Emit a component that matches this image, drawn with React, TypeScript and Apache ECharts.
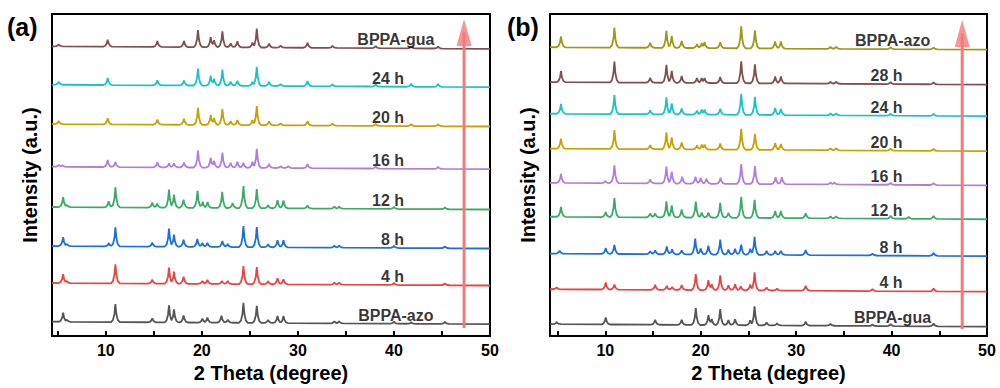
import React, { useEffect, useRef } from "react";
import * as echarts from "echarts";

// ---------- Panel (a) ----------
const namesA = ["BPPA-azo", "4 h", "8 h", "12 h", "16 h", "20 h", "24 h", "BPPA-gua"];
const colorsA = ["#555555", "#e64545", "#1e6fdb", "#3caa68", "#b07ee0", "#c9a100", "#19c3c6", "#7e504f"];
const offsetsA = [14.3, 53, 90, 129, 169.3, 212, 251.3, 289.7];
const labelXA = [40.2, 41.05, 41.05, 41.05, 41.05, 41.05, 41.05, 40.2];
const peaksA: number[][][] = [
  [[5.56,9],[5.95,2],[11.0,18],[14.84,4],[16.58,17],[17.1,13],[18.1,7],[20.06,4],[20.58,5],[22.04,7],[22.7,3],[24.33,20],[25.72,17],[26.9,3],[27.88,7],[28.5,7],[33.8,2],[34.3,2],[40.0,2],[41.8,1.5],[45.3,2]],
  [[5.56,9],[5.95,2],[11.0,19],[14.84,4],[16.58,16],[17.1,12],[18.1,7],[20.06,3],[20.58,4],[22.1,3],[22.7,3],[24.33,18],[25.72,17],[26.9,3],[27.88,6],[28.5,5],[33.8,2],[34.3,2],[40.0,2],[45.3,2]],
  [[5.56,9],[5.95,2],[10.32,3],[11.0,19],[14.84,4],[16.58,18],[17.1,12],[18.1,7],[19.53,8],[20.06,4],[20.58,4],[22.14,6],[22.7,3],[24.33,21],[25.72,20],[26.9,3],[27.88,7],[28.5,7],[33.8,2],[34.3,2],[40.0,2],[45.3,2]],
  [[5.56,10],[5.95,2],[10.3,6],[11.0,20],[14.84,5],[15.35,4],[16.58,18],[17.1,13],[18.1,8],[19.55,17],[20.1,6],[20.6,6],[22.12,16],[23.2,5],[24.33,22],[25.72,19],[26.9,3],[27.88,8],[28.5,8],[31.0,3],[33.8,2],[34.3,2],[40.0,2],[45.3,2]],
  [[5.1,2],[5.5,1.5],[10.2,7],[11.0,5],[15.37,5],[16.58,4],[17.1,4],[18.14,5],[19.6,17],[20.92,10],[21.27,7],[22.14,15],[23.0,5],[23.7,6],[24.33,5],[25.27,6],[25.72,19],[27.0,4],[28.2,2],[29.0,2],[31.0,4],[38.1,2],[44.6,2]],
  [[5.1,3],[10.2,6],[15.37,5],[18.14,6],[19.6,17],[20.92,10],[21.27,7],[22.14,16],[23.0,4],[23.7,5],[25.27,5],[25.72,19],[27.0,4],[28.2,2],[31.0,4],[33.6,2],[38.1,2],[41.8,2],[44.6,2]],
  [[5.1,3],[10.2,7],[15.37,5],[18.14,5],[19.6,17],[20.92,10],[21.27,7],[22.14,16],[23.0,4],[23.7,5],[25.27,4],[25.72,19],[27.0,4],[28.2,2],[31.0,5],[33.6,2],[38.1,2],[41.8,3],[44.6,3]],
  [[5.1,2],[10.2,7],[15.37,6],[18.14,6],[19.6,17],[20.92,10],[21.27,7],[22.14,16],[23.0,4],[23.7,6],[25.27,5],[25.72,19],[27.0,4],[28.2,2],[31.0,5],[33.6,2],[38.1,2],[41.8,2],[44.6,2]],
];

// ---------- Panel (b) ----------
const namesB = ["BPPA-gua", "4 h", "8 h", "12 h", "16 h", "20 h", "24 h", "28 h", "BPPA-azo"];
const colorsB = ["#555555", "#e64545", "#1e6fdb", "#3caa68", "#b07ee0", "#c9a100", "#19c3c6", "#7e504f", "#9a9a14"];
const offsetsB = [12, 47, 82.7, 119.7, 153.7, 188, 223, 254.7, 289.7];
const labelXB = [40.1, 41.15, 41.15, 41.15, 41.15, 41.15, 41.15, 41.15, 40.1];
const peaksB: number[][][] = [
  [[4.9,2],[10.04,7],[15.22,5],[18.0,5],[19.48,17],[20.81,10],[21.15,6],[22.04,16],[22.9,5],[23.6,6],[25.19,5],[25.64,19],[26.9,3],[28.0,2],[31.0,4],[33.6,2],[38.0,1.5],[39.9,2],[44.4,3]],
  [[4.9,2],[10.04,7],[10.95,5],[15.22,5],[16.44,4],[17.0,3],[18.0,5],[19.48,16],[20.8,10],[21.15,6],[22.04,15],[22.9,5],[23.6,6],[24.2,4],[25.19,6],[25.64,18],[26.9,3],[28.0,2],[31.0,5],[38.0,2],[44.4,3]],
  [[5.2,3],[10.04,6],[10.95,9],[14.7,3],[15.22,4],[16.44,8],[17.0,5],[18.0,4],[19.42,16],[20.0,6],[20.8,9],[22.04,15],[22.9,5],[23.6,6],[24.24,10],[25.19,6],[25.64,18],[26.9,4],[27.8,4],[28.4,4],[31.0,5],[38.0,2],[44.4,3]],
  [[5.35,10],[10.04,5],[10.95,19],[14.7,4],[15.22,4],[16.4,16],[16.96,12],[18.0,8],[19.48,16],[20.1,5],[20.8,5],[22.04,15],[22.9,5],[24.24,21],[25.64,18],[27.8,7],[28.4,7],[31.0,5],[33.6,2],[34.2,2],[39.9,3],[41.8,2],[44.4,3]],
  [[5.35,9],[10.0,2],[10.95,18],[14.7,4],[16.4,17],[16.96,12],[18.05,7],[19.45,7],[20.0,6],[20.6,5],[22.07,6],[24.24,20],[25.68,18],[27.84,7],[28.5,7],[33.6,2],[34.0,2],[39.9,2],[44.4,2]],
  [[5.35,10],[10.95,19],[14.7,4],[16.4,17],[16.96,12],[18.0,7],[19.6,4],[20.1,5],[20.4,5],[22.04,6],[24.24,21],[25.68,16],[27.8,7],[28.4,6],[33.6,2],[34.2,2],[39.9,2],[44.4,2]],
  [[5.35,10],[10.95,19],[14.7,4],[16.4,17],[16.96,11],[18.0,6],[19.6,4],[20.1,5],[20.4,5],[22.04,6],[24.24,21],[25.68,18],[27.8,7],[28.4,6],[33.6,2],[34.2,2],[39.9,2],[44.4,2]],
  [[5.35,11],[10.95,21],[14.7,5],[16.4,18],[16.96,12],[18.0,7],[19.6,5],[20.1,5],[20.4,5],[22.04,6],[24.24,22],[25.68,19],[27.8,7],[28.4,7],[33.6,2],[34.2,2],[39.9,2],[44.4,2]],
  [[5.35,11],[10.95,20],[14.7,5],[16.4,17],[16.96,12],[18.0,7],[19.6,4],[20.1,5],[20.4,6],[22.04,6],[24.24,22],[25.68,18],[27.8,7],[28.4,7],[33.6,2],[34.2,2],[39.9,2],[44.4,2]],
];

// axes
const xMinA = 4.4;
const xMinB = 4.2;
const xMax = 50;
const yMaxA = 322;
const yMaxB = 323;
const baselineDrift = 2.5;
const xLabelValues = [10, 20, 30, 40, 50];
const xTickValues = [5, 10, 15, 20, 25, 30, 35, 40, 45, 50];

// arrows
const arrowXA = 47.3;
const arrowXB = 47.4;
const arrowBottomA = 8;
const arrowBottomB = 7;
const arrowHeadA = 303.5;
const arrowHeadB = 303.5;

const SHAPE = [[-0.45, 0], [-0.25, 0.12], [-0.1, 0.45], [0, 1], [0.1, 0.45], [0.25, 0.12], [0.45, 0]];

function peakValue(x: number, p: number, h: number) {
  const d = x - p;
  if (d <= SHAPE[0][0] || d >= SHAPE[SHAPE.length - 1][0]) return 0;
  for (let i = 0; i < SHAPE.length - 1; i++) {
    const [a, va] = SHAPE[i];
    const [b, vb] = SHAPE[i + 1];
    if (d >= a && d <= b) return h * (va + ((vb - va) * (d - a)) / (b - a));
  }
  return 0;
}

function buildTrace(peaks: number[][], offset: number, x0: number, x1: number) {
  const xs = new Set<number>([x0, x1]);
  peaks.forEach(([p]) => SHAPE.forEach(([s]) => {
    const x = +(p + s).toFixed(4);
    if (x > x0 && x < x1) xs.add(x);
  }));
  const sorted = Array.from(xs).sort((a, b) => a - b);
  return sorted.map((x) => {
    let m = 0;
    peaks.forEach(([p, h]) => { m = Math.max(m, peakValue(x, p, h)); });
    return [x, offset - (baselineDrift * (x - x0)) / (x1 - x0) + m];
  });
}

const FONT = "'Liberation Sans', Arial, sans-serif";

function makeXAxis(gridIndex: number, min: number) {
  return {
    type: "value", gridIndex, min, max: xMax,
    name: "2 Theta (degree)", nameLocation: "middle", nameGap: 24,
    nameTextStyle: { fontSize: 20, fontWeight: "bold", color: "#000", fontFamily: FONT },
    axisLine: { show: false },
    splitLine: { show: false },
    axisTick: { show: true, inside: true, length: 5, customValues: xTickValues, lineStyle: { color: "#000", width: 2 } },
    axisLabel: { show: true, margin: 6, customValues: xLabelValues, fontSize: 16, fontWeight: "bold", color: "#000", fontFamily: FONT },
  };
}

function makeYAxis(gridIndex: number, max: number) {
  return {
    type: "value", gridIndex, min: 0, max,
    name: "Intensity (a.u.)", nameLocation: "middle", nameGap: 12,
    nameTextStyle: { fontSize: 20, fontWeight: "bold", color: "#000", fontFamily: FONT },
    axisLine: { show: false }, axisTick: { show: false }, axisLabel: { show: false }, splitLine: { show: false },
  };
}

export default function App() {
  const ref = useRef<HTMLDivElement>(null);
  useEffect(() => {
    if (!ref.current) return;
    const chart = echarts.init(ref.current, null, { renderer: "svg" });
    const series: any[] = [];
    const panels = [
      { names: namesA, colors: colorsA, offsets: offsetsA, peaks: peaksA, labelX: labelXA, xMin: xMinA, idx: 0, ax: arrowXA, ab: arrowBottomA, ah: arrowHeadA },
      { names: namesB, colors: colorsB, offsets: offsetsB, peaks: peaksB, labelX: labelXB, xMin: xMinB, idx: 1, ax: arrowXB, ab: arrowBottomB, ah: arrowHeadB },
    ];
    panels.forEach((pn) => {
      pn.names.forEach((n, i) => {
        series.push({
          type: "line", name: n, xAxisIndex: pn.idx, yAxisIndex: pn.idx,
          data: buildTrace(pn.peaks[i], pn.offsets[i], pn.xMin, xMax),
          showSymbol: false, symbol: "none",
          lineStyle: { color: pn.colors[i], width: 1.8 },
          itemStyle: { color: pn.colors[i] },
          z: 2,
        });
      });
      series.push({
        type: "scatter", xAxisIndex: pn.idx, yAxisIndex: pn.idx, symbolSize: 1,
        itemStyle: { color: "rgba(0,0,0,0)" },
        data: pn.names.map((n, i) => ({
          name: n,
          value: [pn.labelX[i], pn.offsets[i] + 6.5],
          label: { align: n.startsWith("BPPA") ? "center" : "right" },
        })),
        label: {
          show: true, position: "inside", formatter: (p: any) => p.name,
          fontSize: 16, fontWeight: "bold", color: "#000", fontFamily: FONT,
        },
        z: 3,
      });
      series.push({
        type: "line", xAxisIndex: pn.idx, yAxisIndex: pn.idx, symbol: "none",
        data: [[pn.ax, pn.ab], [pn.ax, pn.ah]],
        lineStyle: { color: "#f47a7a", width: 3 }, z: 4,
      });
      series.push({
        type: "scatter", xAxisIndex: pn.idx, yAxisIndex: pn.idx, symbol: "triangle", symbolSize: [15, 27],
        data: [[pn.ax, pn.ah]], itemStyle: { color: "#f47a7a" }, z: 4,
      });
    });

    chart.setOption({
      animation: false,
      backgroundColor: "#fff",
      grid: [
        { left: 52, top: 14, width: 438, height: 322, show: true, borderColor: "#000", borderWidth: 2, backgroundColor: "transparent" },
        { left: 550, top: 14, width: 437, height: 323, show: true, borderColor: "#000", borderWidth: 2, backgroundColor: "transparent" },
      ],
      xAxis: [makeXAxis(0, xMinA), makeXAxis(1, xMinB)],
      yAxis: [makeYAxis(0, yMaxA), makeYAxis(1, yMaxB)],
      graphic: [
        { type: "text", left: 7, top: 14, style: { text: "(a)", fontSize: 25, fontWeight: "bold", fill: "#000", fontFamily: FONT } },
        { type: "text", left: 507, top: 14, style: { text: "(b)", fontSize: 25, fontWeight: "bold", fill: "#000", fontFamily: FONT } },
      ],
      series,
    });
    return () => chart.dispose();
  }, []);
  return <div ref={ref} style={{ width: 1000, height: 388, position: "absolute", left: 0, top: 0 }} />;
}
